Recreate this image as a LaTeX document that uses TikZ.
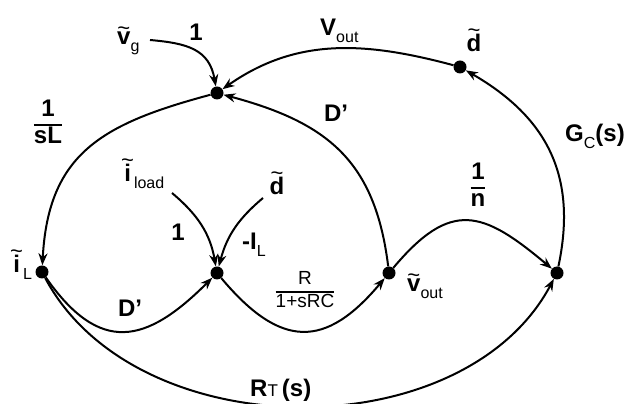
\documentclass[tikz,border=0pt]{standalone}
\usepackage{fontspec}
\setmainfont{Liberation Sans}
\usetikzlibrary{arrows.meta}
\newcommand{\lw}{2pt}
\newcommand{\dotsz}{13pt}
\newcommand{\gfont}{\fontsize{24}{26}\selectfont\bfseries}
\newcommand{\sfont}{\fontsize{16}{16}\selectfont\mdseries}
\newcommand{\rfont}{\fontsize{19}{21}\selectfont\mdseries}
\newcommand{\tldfont}{\fontsize{22}{22}\selectfont\mdseries}
\newcommand{\sub}[1]{\raisebox{-7pt}{\sfont #1}}
\newcommand{\tld}[1]{\leavevmode\vbox{\offinterlineskip\halign{\hfil##\hfil\cr{\tldfont\char"7E}\cr\noalign{\kern-3pt}#1\cr}}}
\newcommand{\gfrac}[2]{{\setlength{\arrayrulewidth}{2.2pt}\renewcommand{\arraystretch}{0.95}\begin{tabular}{@{}c@{}}#1\\\hline #2\end{tabular}}}

\begin{document}
\begin{tikzpicture}[x=1pt, y=1pt,
  signode/.style={circle, fill=black, inner sep=0pt, minimum size=\dotsz},
  branch/.style={line width=\lw, -{Stealth[length=12pt, width=9pt]}},
  gain/.style={inner sep=0pt, font=\gfont, align=center}]

  % bounding box
  \useasboundingbox (0,0) rectangle (632,404);

  %%%%%%%%%%% signal nodes
  % top summing node
  \node [signode] (top) at (217,311) {};
  % duty cycle node
  \node [signode] (dn) at (460,337) {};
  % inductor current
  \node [signode] (il) at (42,132) {};
  % middle summing node
  \node [signode] (mid) at (217,131) {};
  % output voltage
  \node [signode] (vo) at (389,131) {};
  % right node
  \node [signode] (rn) at (557,131) {};

  % free inputs
  \coordinate (vgin) at (150,364);
  \coordinate (iloadin) at (172,211);
  \coordinate (din) at (263,206);

  %%%%%%%%%%% branches
  \draw [branch] (vgin) to[out=-5, in=100, looseness=1.2] (top);
  \draw [branch] (dn) to[out=165, in=35] (top);
  \draw [branch] (vo) to[out=97, in=-15, looseness=1.15] (top);
  \draw [branch] (top) to[out=195, in=87, looseness=1.2] (il);
  \draw [branch] (iloadin) to[out=-40, in=100] (mid);
  \draw [branch] (din) to[out=-140, in=75] (mid);
  \draw [branch] (il) to[out=-55, in=-135, looseness=1.45] (mid);
  \draw [branch] (mid) to[out=-50, in=-130, looseness=1.45] (vo);
  \draw [branch] (vo) to[out=50, in=140, looseness=1.45] (rn);
  \draw [branch] (rn) to[out=78, in=-30, looseness=1.1] (dn);
  \draw [branch] (il) to[out=-62, in=-118, looseness=0.97] (rn);

  %%%%%%%%%%% labels
  % input vg
  \node [gain, anchor=base west] (vglab) at (117,359) {\tld{v}\sub{g}};
  \node [gain] (g1) at (196,372) {1};
  % feedback of duty cycle
  \node [gain, anchor=base west] (voutlab) at (320,368) {V\sub{out}};
  \node [gain, anchor=base] (dlab) at (474,352) {\tld{d}};
  % upper D'
  \node [gain, anchor=base] (dp1) at (336,282) {D’};
  % inductor gain
  \node [gain] (sl) at (48,279) {\gfrac{1}{sL}};
  % controller
  \node [gain, anchor=base west] (gc) at (565,262) {G\sub{C}(s)};
  % turns ratio
  \node [gain] (nlab) at (478,216) {\gfrac{1}{n}};
  % load current input
  \node [gain, anchor=base west] (iloadlab) at (121,222) {\tld{i}\sub{load}};
  \node [gain, anchor=base] (d2lab) at (277,209) {\tld{d}};
  \node [gain] (g2) at (178,172) {1};
  \node [gain, anchor=base west] (illab) at (242,154) {-I\sub{L}};
  % inductor current label
  \node [gain, anchor=base west] (ilnode) at (10,131) {\tld{i}\sub{L}};
  % lower D'
  \node [gain, anchor=base] (dp2) at (130,87) {D’};
  % load impedance
  \node [gain, font=\rfont] (zlab) at (305,112) {\gfrac{R}{1+sRC}};
  % output voltage label
  \node [gain, anchor=base west] (volab) at (407,112) {\tld{v}\sub{out}};
  % transfer
  \node [gain, anchor=base west] (rt) at (250,7) {R{\fontsize{17}{17}\selectfont\mdseries T}\,(s)};

\end{tikzpicture}
\end{document}
